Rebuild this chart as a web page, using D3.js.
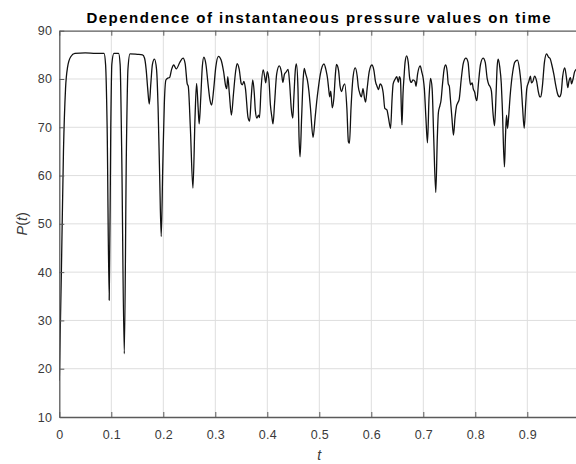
<!DOCTYPE html>
<html>
<head>
<meta charset="utf-8">
<script src="https://cdn.jsdelivr.net/npm/d3@7"></script>
<style>
  body { margin: 0; background: #fff; }
  svg { display: block; }
  text { font-family: "Liberation Sans", Arial, Helvetica, sans-serif; }
</style>
</head>
<body>
<svg id="chart" width="576" height="464"></svg>
<script>
// Time samples (s) and instantaneous pressure P(t)
const timeValues = [
  0, 0.004, 0.008, 0.012, 0.016, 0.022, 0.030, 0.050, 0.070, 0.086,
  0.089, 0.092, 0.096, 0.099, 0.101, 0.105, 0.114, 0.117, 0.120, 0.125,
  0.129, 0.132, 0.136, 0.150, 0.160, 0.164, 0.167, 0.170, 0.173, 0.176,
  0.179, 0.183, 0.187, 0.190, 0.193, 0.196, 0.199, 0.202, 0.205, 0.209,
  0.212, 0.216, 0.220, 0.225, 0.232, 0.238, 0.242, 0.246, 0.248, 0.252,
  0.257, 0.261, 0.264, 0.267, 0.269, 0.272, 0.275, 0.278, 0.282, 0.286,
  0.290, 0.293, 0.297, 0.301, 0.306, 0.311, 0.316, 0.320, 0.322, 0.324,
  0.327, 0.331, 0.335, 0.339, 0.342, 0.346, 0.350, 0.352, 0.355, 0.358,
  0.363, 0.366, 0.369, 0.372, 0.375, 0.377, 0.380, 0.383, 0.385, 0.388,
  0.392, 0.395, 0.397, 0.400, 0.403, 0.406, 0.409, 0.411, 0.414, 0.418,
  0.423, 0.427, 0.430, 0.433, 0.436, 0.440, 0.443, 0.446, 0.449, 0.451,
  0.454, 0.456, 0.459, 0.461, 0.463, 0.466, 0.469, 0.471, 0.474, 0.477,
  0.480, 0.483, 0.488, 0.492, 0.495, 0.498, 0.502, 0.509, 0.513, 0.516,
  0.518, 0.520, 0.522, 0.525, 0.528, 0.531, 0.533, 0.537, 0.540, 0.543,
  0.546, 0.549, 0.553, 0.556, 0.558, 0.561, 0.565, 0.569, 0.573, 0.575,
  0.578, 0.581, 0.584, 0.587, 0.589, 0.592, 0.596, 0.601, 0.605, 0.608,
  0.611, 0.614, 0.617, 0.620, 0.623, 0.626, 0.630, 0.633, 0.637, 0.640,
  0.642, 0.646, 0.649, 0.652, 0.654, 0.656, 0.658, 0.659, 0.661, 0.663,
  0.665, 0.668, 0.671, 0.674, 0.677, 0.680, 0.684, 0.686, 0.689, 0.694,
  0.697, 0.700, 0.702, 0.705, 0.708, 0.711, 0.714, 0.717, 0.720, 0.724,
  0.727, 0.729, 0.732, 0.734, 0.737, 0.740, 0.743, 0.746, 0.748, 0.750,
  0.752, 0.755, 0.758, 0.761, 0.764, 0.766, 0.769, 0.773, 0.777, 0.782,
  0.786, 0.789, 0.791, 0.794, 0.796, 0.799, 0.801, 0.803, 0.806, 0.810,
  0.815, 0.819, 0.823, 0.826, 0.828, 0.831, 0.834, 0.837, 0.840, 0.842,
  0.844, 0.847, 0.850, 0.852, 0.856, 0.858, 0.860, 0.862, 0.864, 0.867,
  0.872, 0.876, 0.881, 0.885, 0.888, 0.891, 0.894, 0.897, 0.899, 0.903,
  0.906, 0.908, 0.911, 0.914, 0.918, 0.921, 0.924, 0.926, 0.929, 0.933,
  0.937, 0.941, 0.944, 0.947, 0.951, 0.955, 0.958, 0.962, 0.965, 0.968,
  0.972, 0.975, 0.978, 0.980, 0.983, 0.985, 0.988, 0.991, 0.995, 1.000
];

const pressureValues = [
  17.5, 40, 65, 78, 82.5, 84.6, 85.3, 85.4, 85.3, 85.3,
  83, 70, 34.2, 70, 83, 85.3, 85.3, 83, 65, 23.1,
  65, 82, 85.2, 85.1, 85.0, 84.3, 82, 78, 74.8, 79,
  83, 84.1, 82, 74, 60, 47.4, 62, 75, 79.8, 80.2,
  80.3, 82, 82.9, 82.1, 83.5, 84.3, 83.2, 79, 78.5, 70,
  57.4, 72, 79.1, 74, 70.7, 76, 82.5, 84.5, 83, 79,
  75.5, 74.6, 78, 82.5, 84.7, 84, 81.5, 78.5, 78, 80.5,
  77, 72.5, 77, 81.5, 83.2, 82, 79, 78.8, 79.5, 78,
  72, 71.3, 76, 79.8, 77, 73.5, 71.9, 72.5, 72, 78,
  81.9, 80.5, 79.2, 81.5, 80, 74.6, 72, 70.7, 75, 81,
  82.7, 81.5, 79.3, 81, 81.4, 82, 79, 74, 71.9, 76,
  82, 83.1, 78, 68, 63.9, 72, 80, 82.2, 81, 79.8,
  77.5, 74, 67.9, 72, 75.3, 78, 81, 83.1, 81.8, 80,
  78, 76.3, 77.5, 74, 76, 81, 83, 81.8, 78.5, 77.4,
  78.5, 79, 74, 67, 66.7, 74, 80.5, 82.3, 80.5, 78.4,
  77, 76.3, 78, 76, 75.2, 78, 81.5, 82.9, 81.8, 79.5,
  78.5, 77.8, 79, 78.6, 77, 73.9, 73.6, 72, 69.8, 76,
  79, 80, 80.5, 79.3, 80.5, 80, 73, 70.5, 77, 80.5,
  83.5, 84.8, 83.5, 80, 79.3, 79.8, 79.5, 78.5, 81, 82.7,
  81.5, 80, 78, 72, 66.8, 76, 80.1, 78, 68, 56.5,
  68, 73, 74.5, 75.5, 79, 82, 82.9, 81.5, 79, 78.5,
  76, 72, 68.4, 72, 74.5, 75, 75.8, 80, 83.3, 84.3,
  83.5, 80, 78.8, 79.2, 78, 77.2, 76, 75.5, 79, 83,
  84.3, 83.5, 80, 78.8, 78.5, 77.5, 73, 70.3, 77, 82.5,
  84.1, 82.5, 79, 74, 61.8, 68, 72.5, 69.8, 72, 76.5,
  81.5, 83.5, 83.9, 82, 79, 74, 69.8, 75, 78, 79.5,
  80.6, 79.2, 79.6, 80.6, 79.5, 77.5, 76.3, 76.3, 78.5, 83.5,
  85.2, 84.5, 84.2, 83, 81, 78.5, 77, 76.3, 77, 80.5,
  82.3, 80.5, 78.2, 79.5, 80.3, 79, 80, 81.5, 82, 81.5
];

const xTickValues = [0, 0.1, 0.2, 0.3, 0.4, 0.5, 0.6, 0.7, 0.8, 0.9];
const xTickLabels = ["0", "0.1", "0.2", "0.3", "0.4", "0.5", "0.6", "0.7", "0.8", "0.9"];
const yTickValues = [10, 20, 30, 40, 50, 60, 70, 80, 90];
const yTickLabels = ["10", "20", "30", "40", "50", "60", "70", "80", "90"];

const titleText = "Dependence of instantaneous pressure values on time";

// Plot box (the right edge runs just past the window edge)
const box = { left: 59.3, top: 30.7, right: 579.3, bottom: 417 };

const svg = d3.select("#chart");

const x = d3.scaleLinear().domain([0, 1]).range([box.left, box.right]);
const y = d3.scaleLinear().domain([10, 90]).range([box.bottom, box.top]);

const axisColor = "#5a5a5a";
const labelColor = "#3a3a3a";

// Grid
const grid = svg.append("g").attr("class", "grid");
grid.selectAll("line.vx")
  .data(xTickValues.filter(v => v > 0))
  .join("line")
  .attr("x1", d => x(d)).attr("x2", d => x(d))
  .attr("y1", box.top).attr("y2", box.bottom)
  .attr("stroke", "#dedede").attr("stroke-width", 1);
grid.selectAll("line.hy")
  .data(yTickValues.filter(v => v > 10 && v < 90))
  .join("line")
  .attr("x1", box.left).attr("x2", box.right)
  .attr("y1", d => y(d)).attr("y2", d => y(d))
  .attr("stroke", "#dedede").attr("stroke-width", 1);

// Data line, clipped to the axes box
svg.append("clipPath").attr("id", "plot-clip")
  .append("rect")
  .attr("x", box.left).attr("y", box.top)
  .attr("width", box.right - box.left).attr("height", box.bottom - box.top);

const series = timeValues.map((t, i) => ({ t, p: pressureValues[i] }));
const line = d3.line()
  .x(d => x(d.t))
  .y(d => y(d.p))
  .curve(d3.curveMonotoneX);

svg.append("path")
  .datum(series)
  .attr("clip-path", "url(#plot-clip)")
  .attr("fill", "none")
  .attr("stroke", "#111")
  .attr("stroke-width", 1.3)
  .attr("stroke-linejoin", "round")
  .attr("d", line);

// Axes with inward ticks
const xAxis = d3.axisBottom(x)
  .tickValues(xTickValues)
  .tickFormat((d, i) => xTickLabels[i])
  .tickSizeInner(-5).tickSizeOuter(0).tickPadding(13);
const gx = svg.append("g")
  .attr("transform", `translate(0,${box.bottom})`)
  .call(xAxis);

const xTop = d3.axisTop(x)
  .tickValues(xTickValues)
  .tickFormat("")
  .tickSizeInner(-5).tickSizeOuter(0);
const gxt = svg.append("g")
  .attr("transform", `translate(0,${box.top})`)
  .call(xTop);

const yAxis = d3.axisLeft(y)
  .tickValues(yTickValues)
  .tickFormat((d, i) => yTickLabels[i])
  .tickSizeInner(-5).tickSizeOuter(0).tickPadding(7);
const gy = svg.append("g")
  .attr("transform", `translate(${box.left},0)`)
  .call(yAxis);

[gx, gxt, gy].forEach(g => {
  g.select(".domain").attr("stroke", axisColor).attr("stroke-width", 1.3);
  g.selectAll(".tick line").attr("stroke", axisColor).attr("stroke-width", 1);
  g.selectAll(".tick text")
    .attr("fill", labelColor)
    .style("font-size", "12.5px")
    .style("letter-spacing", "0.3px")
    .style("font-family", "'Liberation Sans', Arial, sans-serif");
});

// Title
svg.append("text")
  .attr("x", (box.left + box.right) / 2)
  .attr("y", 23)
  .attr("text-anchor", "middle")
  .attr("fill", "#000")
  .style("font-size", "15px")
  .style("font-weight", "bold")
  .style("letter-spacing", "1.5px")
  .text(titleText);

// Axis labels
svg.append("text")
  .attr("x", (box.left + box.right) / 2)
  .attr("y", 460)
  .attr("text-anchor", "middle")
  .attr("fill", labelColor)
  .style("font-size", "14px")
  .style("font-style", "italic")
  .text("t");

const yLabel = svg.append("text")
  .attr("transform", `translate(27,${(box.top + box.bottom) / 2}) rotate(-90)`)
  .attr("text-anchor", "middle")
  .attr("fill", labelColor)
  .style("font-size", "14.5px");
yLabel.append("tspan").style("font-style", "italic").text("P");
yLabel.append("tspan").text("(");
yLabel.append("tspan").style("font-style", "italic").text("t");
yLabel.append("tspan").text(")");
</script>
</body>
</html>
